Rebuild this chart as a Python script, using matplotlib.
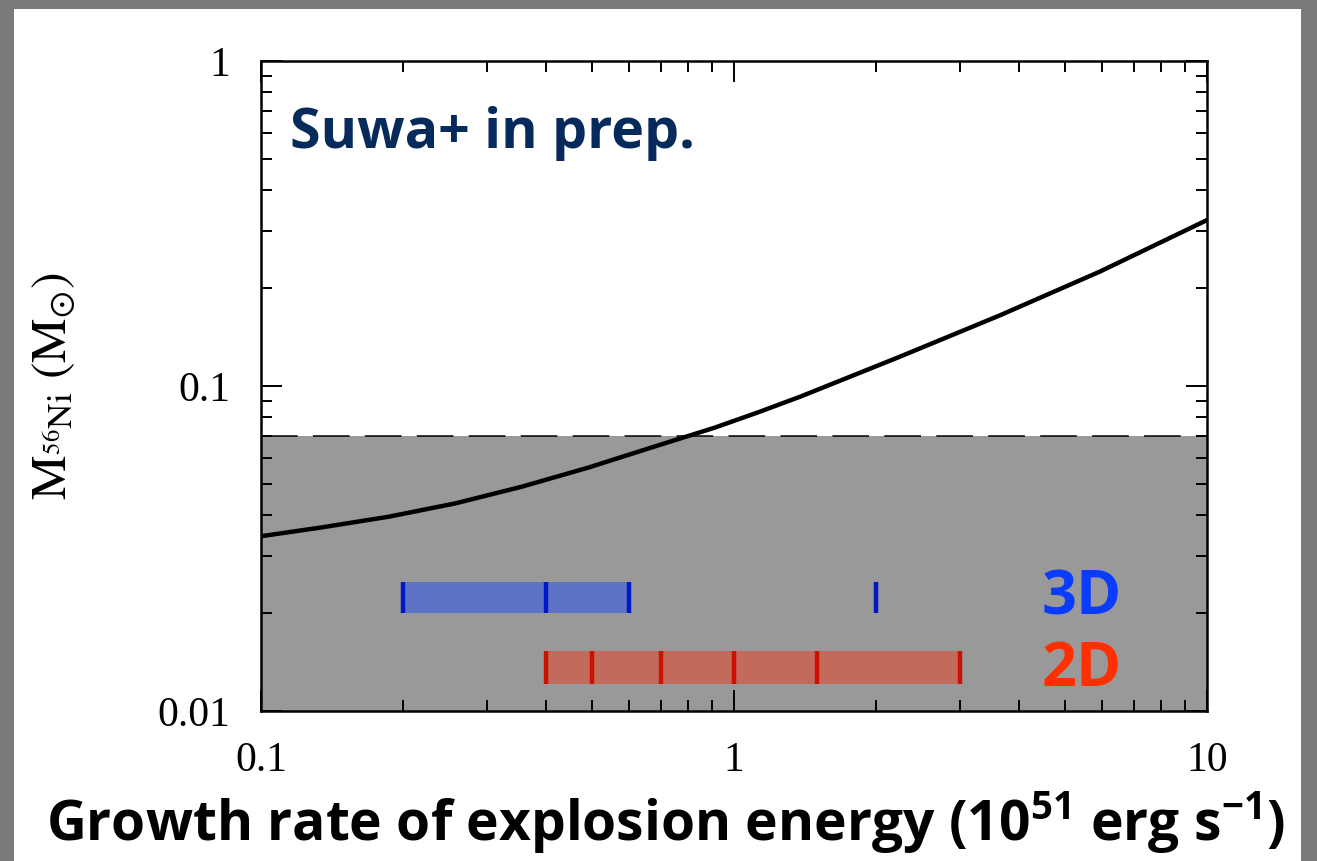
import numpy as np
import matplotlib; matplotlib.use("Agg")
import matplotlib.pyplot as plt
from matplotlib.patches import Rectangle

# curve
rate = [0.1, 0.134, 0.186, 0.257, 0.356, 0.492, 0.681, 0.912, 1.13, 1.38, 2.24, 3.65, 5.94, 10.0]
mni = [0.0345, 0.0367, 0.0396, 0.0435, 0.049, 0.0561, 0.0652, 0.0745, 0.0832, 0.0927,
       0.123, 0.165, 0.225, 0.324]

obs_limit = 0.07           # shaded region top (dashed)

# simulation ranges and individual models
range_3d = (0.2, 0.6)
ticks_3d = [0.2, 0.4, 0.6, 2.0]
band_3d = (0.020, 0.025)
range_2d = (0.4, 3.0)
ticks_2d = [0.4, 0.5, 0.7, 1.0, 1.5, 3.0]
band_2d = (0.0121, 0.0153)

xticks = [0.1, 1, 10]; xtick_labels = ["0.1", "1", "10"]
yticks = [0.01, 0.1, 1]; ytick_labels = ["0.01", "0.1", "1"]

plt.rcParams["mathtext.fontset"] = "custom"
plt.rcParams["mathtext.rm"] = "Open Sans:bold"
plt.rcParams["mathtext.it"] = "Open Sans:bold"
plt.rcParams["mathtext.bf"] = "Open Sans:bold"

W, H = 1317, 861
fig = plt.figure(figsize=(W / 100, H / 100), dpi=100, facecolor="#7a7a7a")
fig.patches.append(Rectangle((14 / W, 0), 1287 / W, 852 / H, transform=fig.transFigure,
                             facecolor="white", edgecolor="none", zorder=-10))
ax = fig.add_axes([261 / W, 1 - 711 / H, 946 / W, 650 / H])
ax.set_xscale("log"); ax.set_yscale("log")
ax.set_xlim(0.1, 10); ax.set_ylim(0.01, 1)

ax.axhspan(0.01, obs_limit, color="#999999", lw=0, zorder=0.5)
ax.axhline(obs_limit, color="black", lw=1.1, dashes=(24, 10), zorder=1)

ax.plot(rate, mni, color="black", lw=3.2, zorder=3, solid_joinstyle="round")

def band(lo_hi, ys, ticks, fill, edge):
    ax.fill_between(lo_hi, ys[0], ys[1], color=fill, lw=0, zorder=2)
    ax.vlines(ticks, ys[0], ys[1], color=edge, lw=3.2, zorder=2.5)

band(range_3d, band_3d, ticks_3d, "#5e72c6", "#0019c6")
band(range_2d, band_2d, ticks_2d, "#c26a5c", "#cc1100")

ax.text(0.8256, 0.149, "3D", color="#0a3cff", fontsize=44, family="Open Sans",
        weight="bold", ha="left", va="baseline", transform=ax.transAxes)
ax.text(0.8256, 0.0385, "2D", color="#ff3000", fontsize=44, family="Open Sans",
        weight="bold", ha="left", va="baseline", transform=ax.transAxes)
ax.text(0.031, 0.866, "Suwa+ in prep.", color="#062a5a", fontsize=40, family="Open Sans",
        weight="bold", ha="left", va="baseline", transform=ax.transAxes)

ax.set_xticks(xticks, xtick_labels); ax.set_yticks(yticks, ytick_labels)
for lab in ax.get_xticklabels() + ax.get_yticklabels():
    lab.set_family("Liberation Serif"); lab.set_fontsize(30)
ax.tick_params(which="both", direction="in", top=True, right=True, width=1.4, color="black")
ax.tick_params(which="major", length=15, pad=22)
ax.tick_params(which="minor", length=8)
for s in ax.spines.values():
    s.set_linewidth(1.8)

ax.set_ylabel(r"$\mathrm{M}_{^{56}\mathrm{Ni}}\ (\mathrm{M}_{\odot})$", fontsize=36,
              math_fontfamily="stix")
ax.yaxis.set_label_coords(-0.193, 0.5)

xl = fig.text(666 / W, 1 - 822 / H, r"Growth rate of explosion energy (10$^{51}$ erg s$^{-1}$)",
              family="Open Sans", weight="bold", fontsize=40, ha="center", va="center")
# shrink the label to the width it has in the reference (~1237 px)
r = fig.canvas.get_renderer()
w = xl.get_window_extent(r).width
xl.set_fontsize(40 * 1237 / w)

fig.savefig("out.png", dpi=100, facecolor=fig.get_facecolor())
